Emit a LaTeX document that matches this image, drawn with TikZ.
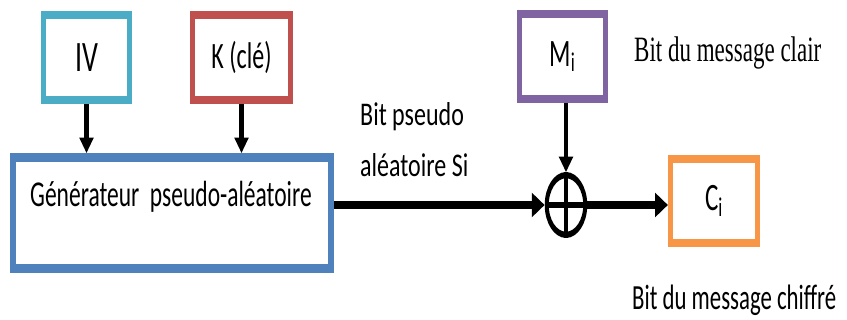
\documentclass[tikz,border=0pt]{standalone}
\usepackage{fontspec}
\setmainfont{Carlito}
\newfontfamily\clairfont{Liberation Serif}
\usetikzlibrary{arrows.meta}
\definecolor{ivcol}{HTML}{4BACC6}
\definecolor{keycol}{HTML}{C0504D}
\definecolor{gencol}{HTML}{4F81BD}
\definecolor{msgcol}{HTML}{8064A2}
\definecolor{ciphcol}{HTML}{F79646}
\tikzset{
  blockbox/.style={draw=#1, line width=5pt, fill=white, inner sep=0pt,
    font=\fontsize{24}{28}\selectfont},
  flow/.style={line width=5pt, -{Triangle[length=13pt,width=15pt]}},
  drop/.style={line width=4.5pt, -{Triangle[length=10pt,width=14pt]}},
  caption/.style={inner sep=0pt, anchor=base west},
}
\begin{document}
\begin{tikzpicture}[x=1pt, y={(0pt,-1pt)}]
\useasboundingbox (0,0) rectangle (847,320);
\fill[white] (0,0) rectangle (847,320);
% the whole scheme is set in a vertically stretched canvas
\begin{scope}[transform canvas={yscale=1.55}, y={(0pt,-0.64516pt)}]
  % input blocks
  \node[blockbox=ivcol, minimum width=86pt, minimum height=55pt] (iv) at (86.5,57.5)
    {\fontsize{28}{30}\selectfont IV};
  \node[blockbox=keycol, minimum width=98pt, minimum height=55pt] (key) at (241.5,57.5)
    {K (clé)};
  \node[blockbox=msgcol, minimum width=86pt, minimum height=55pt] (msg) at (562.5,56.5)
    {\fontsize{25}{28}\selectfont M\textsubscript{i}};
  % generator
  \node[blockbox=gencol, line width=6pt, minimum width=318pt, minimum height=71.4pt] (gen) at (172,213) {};
  \node[caption, font=\fontsize{23.5}{28}\selectfont] (gentxt) at (30,207)
    {Générateur\hspace{0.45em}pseudo-aléatoire};
  % xor
  \node[draw, circle, line width=4pt, minimum size=38.5pt, inner sep=0pt, fill=white] (xor) at (566,205) {};
  \draw[line width=3.5pt] (xor.north) -- (xor.south) (xor.west) -- (xor.east);
  % output block
  \node[blockbox=ciphcol, minimum width=87pt, minimum height=54.4pt] (ciph) at (714,201)
    {\fontsize{25}{28}\selectfont C\textsubscript{i}};
  % connectors
  \draw[drop] (iv.south) -- (iv.south |- gen.north);
  \draw[drop] (key.south) -- (key.south |- gen.north);
  \draw[drop] (xor.north |- msg.south) -- (xor.north);
  \draw[flow] (gen.east |- xor.west) -- (xor.west);
  \draw[flow] (xor.east) -- (xor.east -| ciph.west);
  % captions
  \node[caption, font=\fontsize{24}{28}\selectfont] (sa) at (360,126)
    {\scalebox{1}[0.89]{Bit pseudo}};
  \node[caption, font=\fontsize{24}{28}\selectfont] (sb) at (360,177)
    {\scalebox{1}[0.89]{aléatoire Si}};
  \node[caption, font=\clairfont\fontsize{23}{28}\selectfont] (clair) at (634,62)
    {Bit du message clair};
  \node[caption, font=\fontsize{22.8}{28}\selectfont] (chiffre) at (632,310)
    {Bit du message chiffré};
\end{scope}
\end{tikzpicture}
\end{document}
